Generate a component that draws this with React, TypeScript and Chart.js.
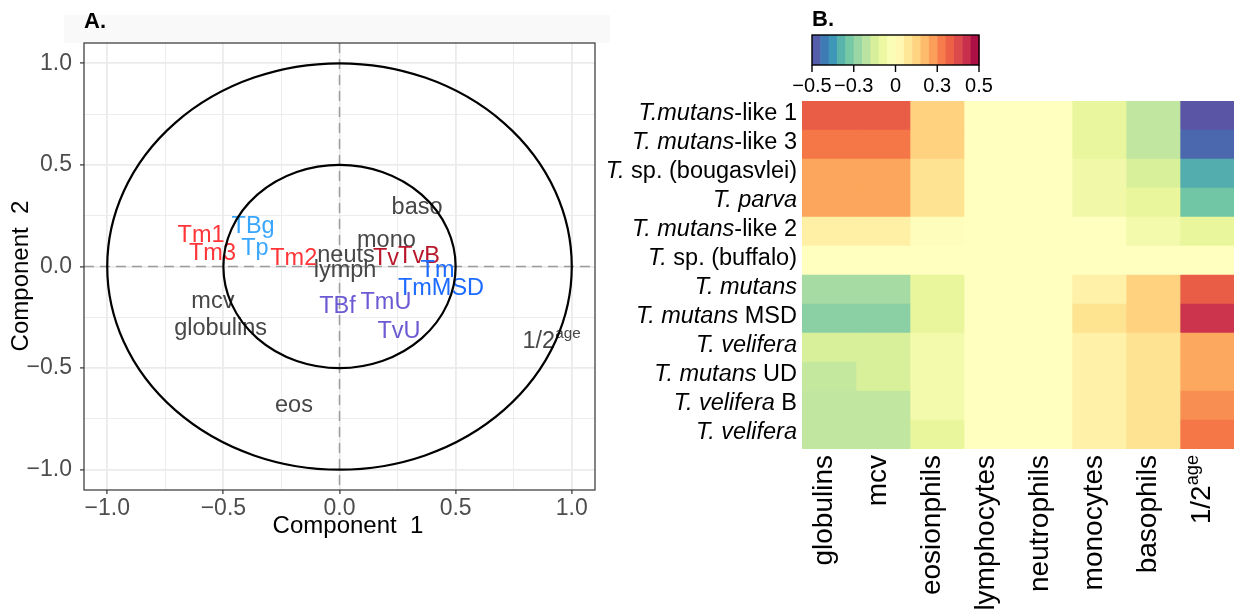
import React, { useEffect, useRef } from "react";
import { Chart, registerables } from "chart.js";

Chart.register(...registerables);

const FONT = '"Liberation Sans", Arial, Helvetica, sans-serif';
const W = 1240;
const H = 613;

// ---------- Panel A: correlation circle ----------
const pcaLabels = [
  "baso", "mono", "neuts", "lymph", "Tv", "TvB", "Tm", "TmMSD", "TBf", "TmU",
  "TvU", "Tm1", "Tm3", "TBg", "Tp", "Tm2", "mcv", "globulins", "eos", "1/2^age",
];
const pcaX = [
  0.334, 0.202, 0.028, 0.024, 0.2, 0.342, 0.422, 0.437, -0.009, 0.2,
  0.256, -0.596, -0.547, -0.372, -0.364, -0.197, -0.545, -0.512, -0.196, 0.913,
];
const pcaY = [
  0.292, 0.131, 0.057, -0.017, 0.041, 0.052, -0.017, -0.107, -0.194, -0.176,
  -0.318, 0.156, 0.065, 0.2, 0.09, 0.041, -0.171, -0.304, -0.681, -0.369,
];
const VAR = "#474747";
const RED = "#ff3538";
const LBLUE = "#38a6ff";
const DRED = "#b8172c";
const BLUE = "#1d6cff";
const PURPLE = "#6b5ad3";
const pcaColors = [
  VAR, VAR, VAR, VAR, DRED, DRED, BLUE, BLUE, PURPLE, PURPLE,
  PURPLE, RED, RED, LBLUE, LBLUE, RED, VAR, VAR, VAR, VAR,
];

const gridValues = [-1, -0.75, -0.5, -0.25, 0, 0.25, 0.5, 0.75, 1];
const tickValues = [-1, -0.5, 0, 0.5, 1];
const tickLabels = ["\u22121.0", "\u22120.5", "0.0", "0.5", "1.0"];
const circleRadii = [1, 0.5];

// ---------- Panel B: heatmap ----------
const rowItalic = [
  "T.mutans", "T. mutans", "T.", "T. parva", "T. mutans", "T.",
  "T. mutans", "T. mutans", "T. velifera", "T. mutans", "T. velifera", "T. velifera",
];
const rowSuffix = [
  "-like 1", "-like 3", " sp. (bougasvlei)", "", "-like 2", " sp. (buffalo)",
  "", " MSD", "", " UD", " B", "",
];
const colLabels = [
  "globulins", "mcv", "eosionphils", "lymphocytes", "neutrophils",
  "monocytes", "basophils", "1/2^age",
];
const globulinsVals = [0.335, 0.286, 0.212, 0.212, 0.048, 0.0, -0.206, -0.248, -0.122, -0.156, -0.163, -0.163];
const mcvVals = [0.335, 0.286, 0.212, 0.212, 0.048, 0.0, -0.206, -0.248, -0.122, -0.122, -0.163, -0.163];
const eosinophilVals = [0.128, 0.128, 0.087, 0.087, 0.005, 0.0, -0.09, -0.09, -0.048, -0.048, -0.048, -0.09];
const lymphocyteVals = [0, 0, 0, 0, 0, 0, 0, 0, 0, 0, 0, 0];
const neutrophilVals = [0, 0, 0, 0, 0, 0, 0, 0, 0, 0, 0, 0];
const monocyteVals = [-0.088, -0.088, -0.056, -0.056, 0.0, 0.0, 0.045, 0.09, 0.045, 0.045, 0.045, 0.045];
const basophilVals = [-0.163, -0.163, -0.122, -0.09, -0.048, 0.0, 0.128, 0.128, 0.087, 0.087, 0.087, 0.087];
const ageVals = [-0.49, -0.456, -0.336, -0.286, -0.09, 0.0, 0.335, 0.416, 0.21, 0.21, 0.249, 0.286];
const heatValues = [
  globulinsVals, mcvVals, eosinophilVals, lymphocyteVals,
  neutrophilVals, monocyteVals, basophilVals, ageVals,
];

const colorbarTicks = [-0.5, -0.25, 0, 0.25, 0.5];
const colorbarLabels = ["\u22120.5", "\u22120.3", "0", "0.3", "0.5"];

// Spectral palette, low (purple) to high (red)
const spectralStops = [
  "#5E4FA2", "#3288BD", "#66C2A5", "#ABDDA4", "#E6F598", "#FFFFBF",
  "#FEE08B", "#FDAE61", "#F46D43", "#D53E4F", "#9E0142",
];
const hexRgb = (h: string) => [
  parseInt(h.slice(1, 3), 16), parseInt(h.slice(3, 5), 16), parseInt(h.slice(5, 7), 16),
];
function spectral(v: number): string {
  const t = Math.min(Math.max(v + 0.5, 0), 1) * (spectralStops.length - 1);
  const i = Math.min(Math.floor(t), spectralStops.length - 2);
  const f = t - i;
  const a = hexRgb(spectralStops[i]);
  const b = hexRgb(spectralStops[i + 1]);
  const c = a.map((x, k) => Math.round(x + (b[k] - x) * f));
  return `rgb(${c[0]},${c[1]},${c[2]})`;
}

// ---------- text helpers ----------
type Seg = { t: string; it?: boolean; sup?: boolean };

function parseMarkup(s: string): Seg[] {
  const k = s.indexOf("^");
  return k < 0 ? [{ t: s }] : [{ t: s.slice(0, k) }, { t: s.slice(k + 1), sup: true }];
}
function fontFor(seg: Seg, size: number) {
  const sz = seg.sup ? size * 0.65 : size;
  return `${seg.it ? "italic " : ""}${sz}px ${FONT}`;
}
function segsWidth(ctx: CanvasRenderingContext2D, segs: Seg[], size: number) {
  let w = 0;
  for (const s of segs) {
    ctx.font = fontFor(s, size);
    w += ctx.measureText(s.t).width;
  }
  return w;
}
function drawSegs(ctx: CanvasRenderingContext2D, segs: Seg[], x: number, baseline: number, size: number) {
  let cx = x;
  ctx.textAlign = "left";
  ctx.textBaseline = "alphabetic";
  for (const s of segs) {
    ctx.font = fontFor(s, size);
    ctx.fillText(s.t, cx, s.sup ? baseline - size * 0.42 : baseline);
    cx += ctx.measureText(s.t).width;
  }
}

const tickLabelFor = (v: number) => {
  const i = tickValues.findIndex((t) => Math.abs(t - v) < 1e-9);
  return i >= 0 ? tickLabels[i] : "";
};
const isMajor = (v: number) => tickValues.some((t) => Math.abs(t - v) < 1e-9);

const gridOpts = {
  color: "#ebebeb",
  lineWidth: (c: any) => (isMajor(c.tick?.value) ? 1.8 : 0.9),
  tickColor: (c: any) => (isMajor(c.tick?.value) ? "#333333" : "rgba(0,0,0,0)"),
  tickLength: 4,
  tickWidth: 1.2,
};

const LABEL_SIZE = 23.5;

const pcaDecor = {
  id: "pcaDecor",
  beforeDraw(chart: any) {
    const ctx = chart.ctx;
    ctx.save();
    ctx.fillStyle = "#f9f9f9";
    ctx.fillRect(64, 15, 546, 28);
    ctx.restore();
  },
  beforeDatasetsDraw(chart: any) {
    const { ctx, chartArea: a, scales } = chart;
    const x0 = scales.x.getPixelForValue(0);
    const y0 = scales.y.getPixelForValue(0);
    ctx.save();
    ctx.strokeStyle = "#9c9c9c";
    ctx.lineWidth = 1.5;
    ctx.setLineDash([10, 6]);
    ctx.beginPath();
    ctx.moveTo(x0, a.top);
    ctx.lineTo(x0, a.bottom);
    ctx.moveTo(a.left, y0);
    ctx.lineTo(a.right, y0);
    ctx.stroke();
    ctx.restore();
  },
  afterDatasetsDraw(chart: any) {
    const { ctx, chartArea: a, scales } = chart;
    const meta = chart.getDatasetMeta(0);
    ctx.save();
    meta.data.forEach((pt: any, i: number) => {
      const segs = parseMarkup(pcaLabels[i]);
      const w = segsWidth(ctx, segs, LABEL_SIZE);
      ctx.fillStyle = pcaColors[i];
      drawSegs(ctx, segs, pt.x - w / 2, pt.y + LABEL_SIZE * 0.29, LABEL_SIZE);
    });
    // unit and half-unit circles
    const cx = scales.x.getPixelForValue(0);
    const cy = scales.y.getPixelForValue(0);
    ctx.strokeStyle = "#000";
    ctx.lineWidth = 2.2;
    for (const r of circleRadii) {
      const rx = scales.x.getPixelForValue(r) - cx;
      const ry = cy - scales.y.getPixelForValue(r);
      ctx.beginPath();
      ctx.ellipse(cx, cy, rx, ry, 0, 0, Math.PI * 2);
      ctx.stroke();
    }
    ctx.strokeStyle = "#333333";
    ctx.lineWidth = 1.2;
    ctx.strokeRect(a.left, a.top, a.right - a.left, a.bottom - a.top);
    ctx.restore();
  },
  afterDraw(chart: any) {
    const { ctx } = chart;
    ctx.save();
    ctx.fillStyle = "#000";
    ctx.font = `bold 22px ${FONT}`;
    ctx.textAlign = "left";
    ctx.textBaseline = "alphabetic";
    ctx.fillText("A.", 84, 28);
    ctx.font = `24px ${FONT}`;
    ctx.textAlign = "center";
    ctx.fillText("Component  1", 348, 533);
    ctx.translate(28, 276);
    ctx.rotate(-Math.PI / 2);
    ctx.fillText("Component  2", 0, 0);
    ctx.restore();
  },
};

const ROW_SIZE = 23.5;
const COL_SIZE = 28;

const heatDecor = {
  id: "heatDecor",
  afterDraw(chart: any) {
    const { ctx, chartArea: a, scales } = chart;
    ctx.save();
    ctx.fillStyle = "#000";
    // row labels
    rowItalic.forEach((it, i) => {
      const segs: Seg[] = [{ t: it, it: true }];
      if (rowSuffix[i]) segs.push({ t: rowSuffix[i] });
      const w = segsWidth(ctx, segs, ROW_SIZE);
      const y = scales.y.getPixelForValue(i);
      drawSegs(ctx, segs, a.left - 5 - w, y + 4, ROW_SIZE);
    });
    // column labels, rotated
    colLabels.forEach((lab, j) => {
      const segs = parseMarkup(lab);
      const w = segsWidth(ctx, segs, COL_SIZE);
      const x = scales.x.getPixelForValue(j + 0.5);
      ctx.save();
      ctx.translate(x + 3, a.bottom + 6);
      ctx.rotate(-Math.PI / 2);
      drawSegs(ctx, segs, -w, 0, COL_SIZE);
      ctx.restore();
    });
    // colour bar
    const bx0 = 812, bx1 = 979, by0 = 35, by1 = 65;
    const nBins = 20;
    for (let k = 0; k < nBins; k++) {
      const v = -0.5 + (k + 0.5) / nBins;
      ctx.fillStyle = spectral(v);
      const xa = bx0 + ((bx1 - bx0) * k) / nBins;
      ctx.fillRect(xa, by0, (bx1 - bx0) / nBins + 0.5, by1 - by0);
    }
    ctx.strokeStyle = "#000";
    ctx.lineWidth = 1.4;
    ctx.strokeRect(bx0, by0, bx1 - bx0, by1 - by0);
    ctx.fillStyle = "#000";
    ctx.font = `20px ${FONT}`;
    ctx.textAlign = "center";
    ctx.textBaseline = "alphabetic";
    colorbarTicks.forEach((t, k) => {
      const x = bx0 + (bx1 - bx0) * (t + 0.5);
      ctx.beginPath();
      ctx.moveTo(x, by1);
      ctx.lineTo(x, by1 + 7);
      ctx.stroke();
      ctx.fillText(colorbarLabels[k], x, 92);
    });
    ctx.font = `bold 22px ${FONT}`;
    ctx.textAlign = "left";
    ctx.fillText("B.", 812, 26);
    ctx.restore();
  },
};

export default function App() {
  const aRef = useRef<HTMLCanvasElement>(null);
  const bRef = useRef<HTMLCanvasElement>(null);

  useEffect(() => {
    const pca = new Chart(aRef.current as HTMLCanvasElement, {
      type: "scatter",
      data: {
        datasets: [
          {
            label: "loadings",
            data: pcaX.map((x, i) => ({ x, y: pcaY[i] })),
            pointRadius: 0,
            showLine: false,
          },
        ],
      },
      options: {
        responsive: false,
        animation: false,
        events: [],
        layout: { padding: { left: 0, top: 43, right: W - 595, bottom: 0 } },
        scales: {
          x: {
            type: "linear",
            min: -1.1,
            max: 1.1,
            afterBuildTicks: (s: any) => {
              s.ticks = gridValues.map((v) => ({ value: v }));
            },
            afterFit: (s: any) => {
              s.height = H - 490;
            },
            ticks: {
              autoSkip: false,
              maxRotation: 0,
              padding: 1,
              color: "#4d4d4d",
              font: { family: FONT, size: 23 },
              callback: (v: any) => tickLabelFor(Number(v)),
            },
            grid: gridOpts as any,
            border: { display: false },
          },
          y: {
            type: "linear",
            min: -1.1,
            max: 1.1,
            afterBuildTicks: (s: any) => {
              s.ticks = gridValues.map((v) => ({ value: v }));
            },
            afterFit: (s: any) => {
              s.width = 84;
            },
            ticks: {
              autoSkip: false,
              padding: 8,
              color: "#4d4d4d",
              font: { family: FONT, size: 23 },
              callback: (v: any) => tickLabelFor(Number(v)),
            },
            grid: gridOpts as any,
            border: { display: false },
          },
        },
        plugins: { legend: { display: false }, tooltip: { enabled: false } },
      },
      plugins: [pcaDecor],
    });

    const rowNames = rowItalic.map((t, i) => t + rowSuffix[i]);
    const heat = new Chart(bRef.current as HTMLCanvasElement, {
      type: "bar",
      data: {
        labels: rowNames,
        datasets: colLabels.map((c, j) => ({
          label: c,
          data: heatValues[j].map(() => 1),
          backgroundColor: heatValues[j].map(spectral),
          borderWidth: 0,
          barPercentage: 1,
          categoryPercentage: 1,
        })),
      },
      options: {
        indexAxis: "y",
        responsive: false,
        animation: false,
        events: [],
        layout: { padding: { left: 802, right: W - 1234, top: 101, bottom: H - 449 } },
        scales: {
          x: { stacked: true, min: 0, max: colLabels.length, display: false },
          y: { stacked: true, display: false },
        },
        plugins: { legend: { display: false }, tooltip: { enabled: false } },
      },
      plugins: [heatDecor],
    });

    return () => {
      pca.destroy();
      heat.destroy();
    };
  }, []);

  return (
    <div
      style={{
        position: "absolute",
        left: 0,
        top: 0,
        width: W,
        height: H,
        background: "#fff",
        overflow: "hidden",
      }}
    >
      <canvas ref={aRef} width={W} height={H} style={{ position: "absolute", left: 0, top: 0 }} />
      <canvas ref={bRef} width={W} height={H} style={{ position: "absolute", left: 0, top: 0 }} />
    </div>
  );
}
